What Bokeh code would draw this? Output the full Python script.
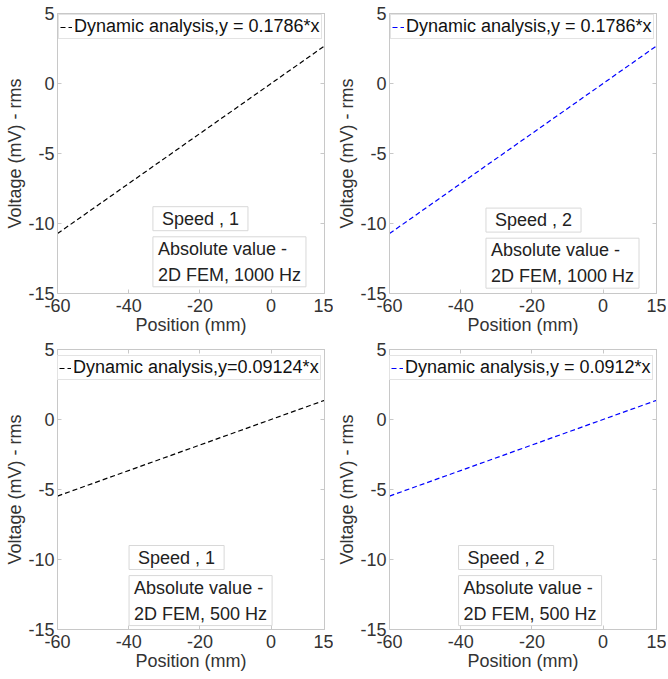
from bokeh.plotting import figure
from bokeh.layouts import gridplot
from bokeh.models import FixedTicker, LinearAxis, Label, Range1d
from bokeh.embed import file_html
from bokeh.resources import INLINE

# ---- data ----
positions = [-60, 15]
voltage_1000_s1 = [-10.72, 2.68]
voltage_1000_s2 = [-10.72, 2.68]
voltage_500_s1 = [-5.47, 1.37]
voltage_500_s2 = [-5.47, 1.37]
legend_labels = ["Dynamic analysis,y = 0.1786*x", "Dynamic analysis,y = 0.1786*x",
                 "Dynamic analysis,y=0.09124*x", "Dynamic analysis,y = 0.0912*x"]
speed_labels = ["Speed , 1", "Speed , 2", "Speed , 1", "Speed , 2"]
freq_labels = ["Absolute value -\n2D FEM, 1000 Hz", "Absolute value -\n2D FEM, 1000 Hz",
               "Absolute value -\n2D FEM, 500 Hz", "Absolute value -\n2D FEM, 500 Hz"]
x_ticks = [-60, -40, -20, 0, 15]
y_ticks = [-15, -10, -5, 0, 5]
colors = ["#000000", "#0000ff", "#000000", "#0000ff"]
series = [voltage_1000_s1, voltage_1000_s2, voltage_500_s1, voltage_500_s2]
# label anchor positions (data coordinates, top-left corner of box)
speed_pos = [(-33.2, -8.8), (-32.9, -8.9), (-39.9, -9.0), (-40.6, -9.0)]
freq_pos = [(-33.2, -10.95), (-32.9, -11.05), (-39.9, -11.15), (-40.6, -11.15)]
legend_locs = ["top_left", "top_left", (0, 249), (0, 249)]

FONT = "Liberation Sans"
FS = "18px"
AX = "#c8c8c8"
TXT = "#333333"

def tick_text(ticks):
    return {t: str(t) for t in ticks}

def make(i, width, height, bl, br, bt, bb):
    p = figure(width=width, height=height, output_backend="svg", toolbar_location=None,
               x_range=Range1d(-60, 15), y_range=Range1d(-15, 5),
               min_border_left=bl, min_border_right=br, min_border_top=bt, min_border_bottom=bb,
               x_axis_label="Position (mm)", y_axis_label="Voltage (mV) - rms")
    p.xgrid.visible = False
    p.ygrid.visible = False
    p.outline_line_color = AX
    p.background_fill_color = "white"
    p.border_fill_color = "white"
    for ax in (p.xaxis[0], p.yaxis[0]):
        ax.axis_line_color = AX
        ax.major_tick_line_color = AX
        ax.minor_tick_line_color = None
        ax.major_tick_in = 4
        ax.major_tick_out = 0
        ax.major_label_text_font = FONT
        ax.major_label_text_font_size = FS
        ax.major_label_text_color = TXT
        ax.axis_label_text_font = FONT
        ax.axis_label_text_font_size = FS
        ax.axis_label_text_font_style = "normal"
        ax.axis_label_text_color = TXT
    p.xaxis[0].major_label_standoff = 5
    p.xaxis[0].axis_label_standoff = 0
    p.yaxis[0].major_label_standoff = 3
    p.yaxis[0].axis_label_standoff = 0
    p.xaxis[0].ticker = FixedTicker(ticks=x_ticks)
    p.yaxis[0].ticker = FixedTicker(ticks=y_ticks)
    p.xaxis[0].major_label_overrides = tick_text(x_ticks)
    p.yaxis[0].major_label_overrides = tick_text(y_ticks)
    # box ticks on top and right
    top = LinearAxis(ticker=FixedTicker(ticks=x_ticks), major_label_overrides={t: "" for t in x_ticks},
                     major_label_text_font_size="0px", major_label_standoff=0,
                     major_tick_in=4, major_tick_out=0, minor_tick_line_color=None,
                     axis_line_color=AX, major_tick_line_color=AX)
    right = LinearAxis(ticker=FixedTicker(ticks=y_ticks), major_label_overrides={t: "" for t in y_ticks},
                       major_label_text_font_size="0px", major_label_standoff=0,
                       major_tick_in=4, major_tick_out=0, minor_tick_line_color=None,
                       axis_line_color=AX, major_tick_line_color=AX)
    p.add_layout(top, "above")
    p.add_layout(right, "right")

    p.line(positions, series[i], line_color=colors[i], line_width=1.2, line_dash="5 3",
           legend_label=legend_labels[i])
    lg = p.legend[0]
    lg.location = legend_locs[i]
    lg.margin = 1
    lg.padding = 1
    lg.spacing = 0
    lg.glyph_width = 12
    lg.glyph_height = 20
    lg.label_height = 20
    lg.label_standoff = 2
    lg.label_text_font = FONT
    lg.label_text_font_size = FS
    lg.label_text_color = "#111111"
    lg.border_line_color = AX
    lg.background_fill_alpha = 1

    sx, sy = speed_pos[i]
    p.add_layout(Label(x=sx, y=sy, text=speed_labels[i], anchor="top_left",
                       text_font=FONT, text_font_size=FS, text_color="#222222",
                       border_line_color="#d8d8d8", background_fill_color="white",
                       padding=dict(left=9, right=9, top=2, bottom=2)))
    fx, fy = freq_pos[i]
    p.add_layout(Label(x=fx, y=fy, text=freq_labels[i], anchor="top_left",
                       text_font=FONT, text_font_size=FS, text_color="#222222",
                       text_line_height=1.3,
                       border_line_color="#d8d8d8", background_fill_color="white",
                       padding=dict(left=5, right=5, top=2, bottom=2)))
    return p

p1 = make(0, 333, 341, 57, 9, 13, 48)
p2 = make(1, 333, 341, 56, 10, 13, 48)
p3 = make(2, 333, 336, 57, 9, 8, 48)
p4 = make(3, 333, 336, 56, 10, 8, 48)

grid = gridplot([[p1, p2], [p3, p4]], toolbar_location=None)

open("out.html", "w").write(file_html(grid, INLINE))
